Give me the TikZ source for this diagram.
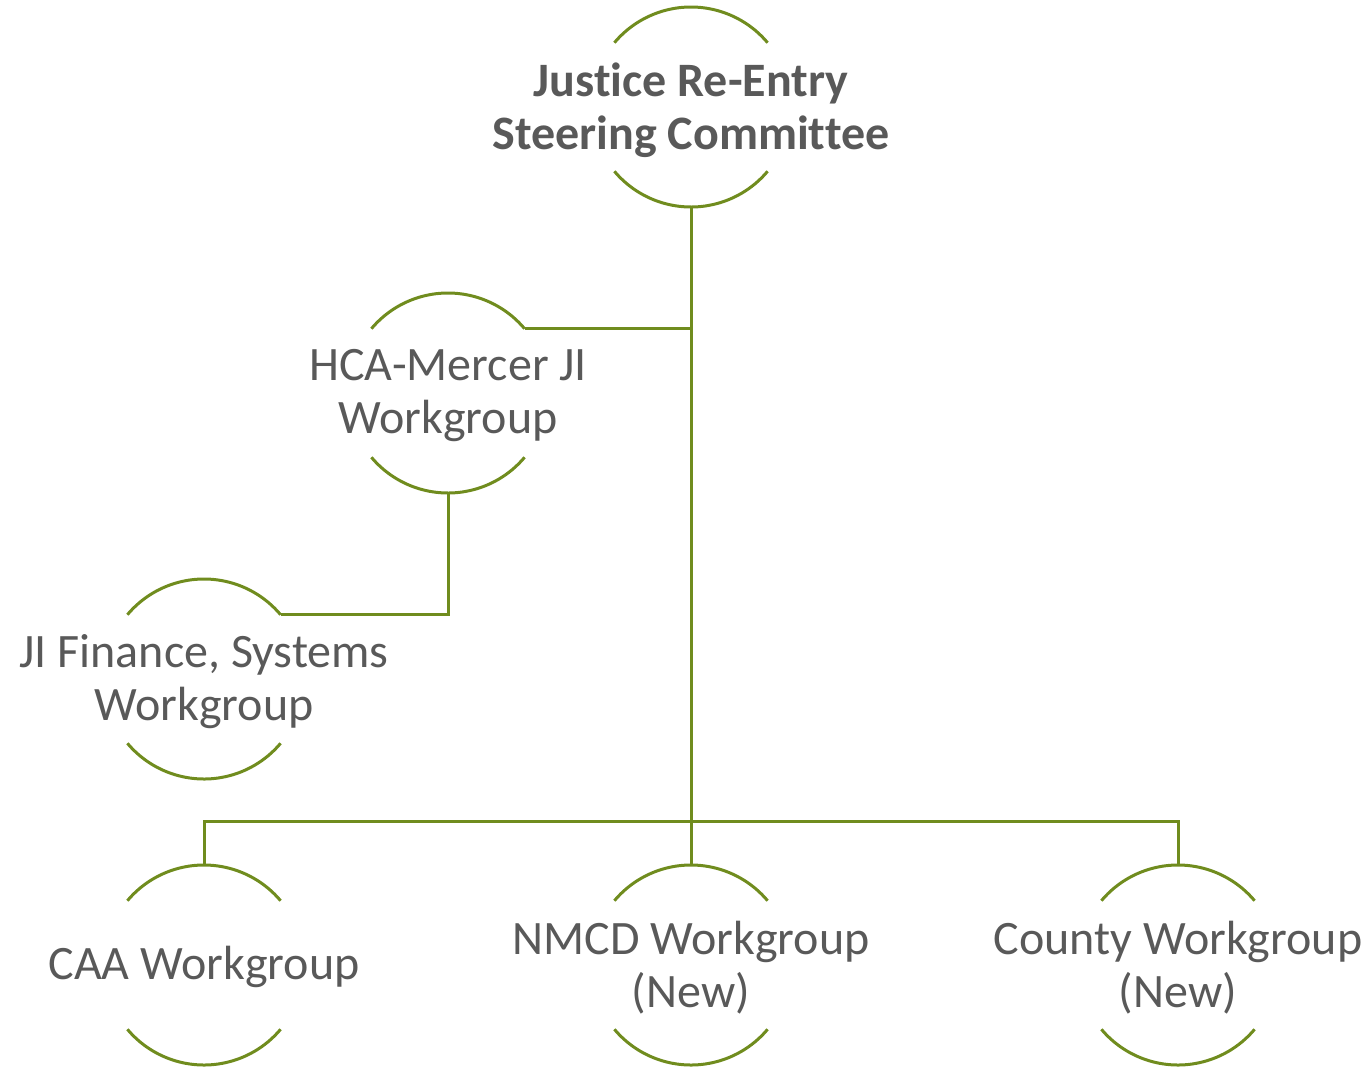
\documentclass[tikz,border=0pt]{standalone}
\usepackage{fontspec}
\setmainfont[Ligatures=NoCommon]{Carlito}
\usetikzlibrary{calc}
\definecolor{lineGreen}{RGB}{112,140,30}
\definecolor{textGrey}{RGB}{89,89,89}
\tikzset{
  x=1pt, y=-1pt,
  unit/.style={align=center, text=textGrey, font=\fontsize{48}{53}\selectfont, inner sep=0pt},
  unitbold/.style={unit, font=\fontsize{48}{53}\selectfont\bfseries},
  conn/.style={draw=lineGreen, line width=3pt},
  ring/.style={draw=lineGreen, line width=3pt},
}
\newcommand{\ringarcs}[1]{%
  \draw[ring] ($(#1)+(140:100)$) arc[start angle=140, end angle=40, radius=100];
  \draw[ring] ($(#1)+(220:100)$) arc[start angle=220, end angle=320, radius=100];
}
\begin{document}
\begin{tikzpicture}
\useasboundingbox (0,0) rectangle (1368,1066);
% nodes
\node[unitbold] (top) at (691,110) {Justice Re-Entry\\Steering Committee};
\node[unit] (hca) at (448,396) {HCA-Mercer JI\\Workgroup};
\node[unit] (fin) at (204,682) {JI Finance, Systems\\Workgroup};
\node[unit] (caa) at (204,967) {CAA Workgroup};
\node[unit] (nmcd) at (691,968) {NMCD Workgroup\\(New)};
\node[unit] (county) at (1178,968) {County Workgroup\\(New)};
% ring arcs
\coordinate (cTop) at (691,107);
\coordinate (cHca) at (448,393);
\coordinate (cFin) at (204,679);
\coordinate (cCaa) at (204,965);
\coordinate (cNmcd) at (691,965);
\coordinate (cCounty) at (1178,965);
\ringarcs{cTop}
\ringarcs{cHca}
\ringarcs{cFin}
\ringarcs{cCaa}
\ringarcs{cNmcd}
\ringarcs{cCounty}
% connection points (y axis points down)
\coordinate (topS) at ($(cTop)+(0,101)$);
\coordinate (hcaNE) at ($(cHca)+(-40:100)$);
\coordinate (hcaS) at ($(cHca)+(0,101)$);
\coordinate (finNE) at ($(cFin)+(-40:100)$);
\coordinate (caaN) at ($(cCaa)+(0,-101)$);
\coordinate (nmcdN) at ($(cNmcd)+(0,-101)$);
\coordinate (countyN) at ($(cCounty)+(0,-101)$);
% connectors
\draw[conn] (topS) -- (nmcdN);
\draw[conn] (hcaNE) -- (hcaNE -| topS);
\draw[conn] (finNE) -| (hcaS);
\draw[conn] (caaN) -- ++(0,-43) -| (countyN);
\end{tikzpicture}
\end{document}
